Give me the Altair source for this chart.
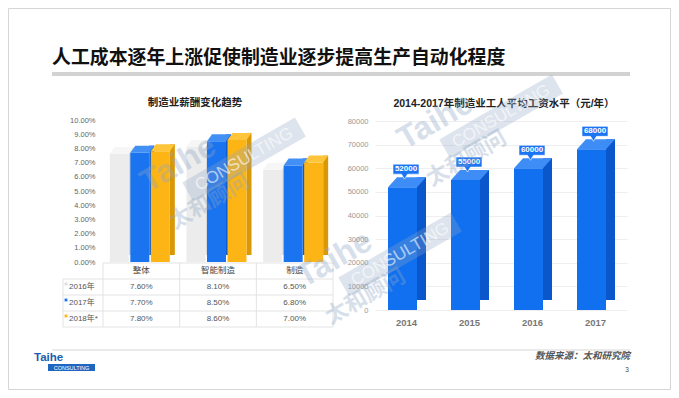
import math
import altair as alt
import pandas as pd

# ---------------- data ----------------
salary_categories = ["整体", "智能制造", "制造"]
salary_series = ["2016年", "2017年", "2018年*"]
salary_2016 = [0.076, 0.081, 0.065]
salary_2017 = [0.077, 0.085, 0.068]
salary_2018 = [0.078, 0.086, 0.070]
salary_ticks = [0.0, 0.01, 0.02, 0.03, 0.04, 0.05, 0.06, 0.07, 0.08, 0.09, 0.10]

wage_years = ["2014", "2015", "2016", "2017"]
wage_values = [52000, 55000, 60000, 68000]
wage_ticks = [0, 10000, 20000, 30000, 40000, 50000, 60000, 70000, 80000]

slide_title = "人工成本逐年上涨促使制造业逐步提高生产自动化程度"
left_title = "制造业薪酬变化趋势"
right_title = "2014-2017年制造业工人平均工资水平（元/年）"
source_text = "数据来源：太和研究院"
page_number = "3"

# ---------------- styles ----------------
LAT = "Liberation Sans, Noto Sans CJK SC, sans-serif"
CJK = "Noto Sans CJK SC, sans-serif"
W, H = 663, 382
LINE = "#e3e3e3"

series_front = ["#ececec", "#1a73ef", "#fdb515"]
series_side = ["#d8d8d8", "#0c5bcf", "#d99806"]
series_top = ["#f6f6f6", "#4290f6", "#fec53a"]
series_off = [-22, -1.5, 19]
WL, DXL, DYL = 19, 5, 7

R_FRONT, R_SIDE, R_TOP = "#1170f0", "#0a57cc", "#3e8df6"
WR, DXR, DYR, OFFR = 29, 9, 10, -4

salary_values = [salary_2016, salary_2017, salary_2018]
sal_rows = []
for s, vals in zip(salary_series, salary_values):
    for c, v in zip(salary_categories, vals):
        sal_rows.append({"cat": c, "series": s, "value": v, "label": f"{v*100:.2f}%"})
sal_df = pd.DataFrame(sal_rows)
cat_df = pd.DataFrame({"cat": salary_categories})
ser_df = pd.DataFrame({"series": salary_series})
wage_df = pd.DataFrame({"year": wage_years, "value": wage_values,
                        "label": [str(v) for v in wage_values]})
one = pd.DataFrame({"k": [0]})

# ---------------- left chart ----------------
LX = alt.Scale(domain=salary_categories, range=[95, 325], paddingInner=0, paddingOuter=0)
LY = alt.Scale(domain=[0, 0.1], range=[254, 112], nice=False)
TY = alt.Scale(domain=salary_series, range=[271, 319], paddingInner=0, paddingOuter=0)
bwL = 230 / 3


def xl():
    return alt.X("cat:N", scale=LX, sort=salary_categories,
                 axis=alt.Axis(orient="bottom", offset=-128, labelAngle=0, domain=False,
                               ticks=False, grid=False, labelFont=CJK, labelFontSize=8.5,
                               labelColor="#444", labelPadding=3, title=None))


def yl():
    return alt.Y("value:Q", scale=LY,
                 axis=alt.Axis(orient="left", offset=-95, values=salary_ticks, format=".2%",
                               domain=False, ticks=False, grid=False, labelFont=LAT,
                               labelFontSize=7.5, labelColor="#666", labelPadding=8, title=None))


bar_layers = []
for i, s in enumerate(salary_series):
    d = sal_df[sal_df["series"] == s]
    off = series_off[i]
    side = alt.Chart(d).mark_bar(width=DXL, xOffset=off + WL / 2 + DXL / 2, yOffset=-DYL,
                                 y2Offset=-DYL / 2, color=series_side[i]).encode(x=xl(), y=yl())
    front = alt.Chart(d).mark_bar(width=WL, xOffset=off, color=series_front[i]).encode(x=xl(), y=yl())
    path = f"M{-WL/2},0L{WL/2},0L{WL/2+DXL},{-DYL}L{-WL/2+DXL},{-DYL}Z"
    top = alt.Chart(d).mark_point(shape=path, size=4, filled=True, opacity=1, strokeWidth=0,
                                  color=series_top[i], xOffset=off).encode(x=xl(), y=yl())
    bar_layers += [side, front, top]
left_bars = alt.layer(*bar_layers)

ty = alt.Y("series:N", scale=TY, sort=salary_series, axis=None)
table_layers = [
    alt.Chart(sal_df).mark_text(font=LAT, fontSize=8, color="#555").encode(x=xl(), y=ty, text="label:N"),
    alt.Chart(ser_df).mark_text(font=LAT, fontSize=8, color="#555", align="left").encode(
        x=alt.value(61), y=ty, text="series:N"),
    alt.Chart(ser_df).mark_square(size=8, opacity=1, yOffset=-3).encode(
        x=alt.value(58), y=ty,
        color=alt.Color("series:N", scale=alt.Scale(domain=salary_series, range=["#dcdcdc", "#1a73ef", "#fdb515"]), legend=None)),
    alt.Chart(cat_df).mark_rule(color=LINE, xOffset=-bwL / 2).encode(x=xl(), y=alt.value(255), y2=alt.value(319)),
    alt.Chart(cat_df.tail(1)).mark_rule(color=LINE, xOffset=bwL / 2).encode(x=xl(), y=alt.value(255), y2=alt.value(319)),
    alt.Chart(one).mark_rule(color=LINE).encode(x=alt.value(55), y=alt.value(271), y2=alt.value(319)),
    alt.Chart(ser_df).mark_rule(color=LINE, yOffset=-8).encode(y=ty, x=alt.value(55), x2=alt.value(325)),
    alt.Chart(ser_df.tail(1)).mark_rule(color=LINE, yOffset=8).encode(y=ty, x=alt.value(55), x2=alt.value(325)),
    alt.Chart(one).mark_rule(color=LINE).encode(y=alt.value(255), x=alt.value(95), x2=alt.value(325)),
]
left_table = alt.layer(*table_layers)
left = alt.layer(left_bars, left_table).resolve_scale(y="independent")

# ---------------- right chart ----------------
RX = alt.Scale(domain=wage_years, range=[367, 619], paddingInner=0, paddingOuter=0)
RY = alt.Scale(domain=[0, 80000], range=[302, 113], nice=False)


def xr():
    return alt.X("year:N", scale=RX, sort=wage_years,
                 axis=alt.Axis(orient="bottom", offset=-80, labelAngle=0, domain=False, ticks=False,
                               grid=False, labelFont=LAT, labelFontSize=9.5, labelFontWeight="bold",
                               labelColor="#777", labelPadding=7, title=None))


def yr():
    return alt.Y("value:Q", scale=RY,
                 axis=alt.Axis(orient="left", offset=-367, values=wage_ticks, format="d",
                               domain=False, ticks=False, grid=True, gridColor="#eeeeee",
                               labelFont=LAT, labelFontSize=7.5, labelColor="#999",
                               labelPadding=7, title=None))


rpath_top = f"M{-WR/2},0L{WR/2},0L{WR/2+DXR},{-DYR}L{-WR/2+DXR},{-DYR}Z"
rpath_call = "M-9.5,-23L16.5,-23L16.5,-13L5,-13L2,-8L-1,-13L-9.5,-13Z"
right = alt.layer(
    alt.Chart(wage_df).mark_bar(width=DXR, xOffset=OFFR + WR / 2 + DXR / 2, yOffset=-DYR,
                                y2Offset=-DYR / 2, color=R_SIDE).encode(x=xr(), y=yr()),
    alt.Chart(wage_df).mark_bar(width=WR, xOffset=OFFR, color=R_FRONT).encode(x=xr(), y=yr()),
    alt.Chart(wage_df).mark_point(shape=rpath_top, size=4, filled=True, opacity=1, strokeWidth=0,
                                  color=R_TOP, xOffset=OFFR).encode(x=xr(), y=yr()),
    alt.Chart(wage_df).mark_point(shape=rpath_call, size=4, filled=True, opacity=1, fill="#1b74f2",
                                  stroke="#ffffff", strokeWidth=0.6, xOffset=OFFR).encode(x=xr(), y=yr()),
    alt.Chart(wage_df).mark_text(font=LAT, fontSize=8, fontWeight="bold", color="white",
                                 dx=OFFR + 3.5, dy=-18, baseline="middle").encode(x=xr(), y=yr(), text="label:N"),
)

# ---------------- decorations ----------------
def txt(t, x, y, **kw):
    return alt.Chart(one).mark_text(text=t, **kw).encode(x=alt.value(x), y=alt.value(y))


deco = alt.layer(
    alt.Chart(one).mark_rect(fillOpacity=0, stroke="#d6d6d6", strokeWidth=1).encode(
        x=alt.value(0.5), x2=alt.value(662.5), y=alt.value(0.5), y2=alt.value(381.5)),
    txt(slide_title, 44, 50, font=CJK, fontSize=18.9, fontWeight="bold", color="#111", align="left", baseline="middle"),
    alt.Chart(one).mark_rect(fill="#d2d2d2").encode(
        x=alt.value(44), x2=alt.value(622), y=alt.value(64), y2=alt.value(68)),
    txt(left_title, 187, 95, font=CJK, fontSize=10.5, fontWeight="bold", color="#222", align="center", baseline="middle"),
    txt(right_title, 496, 96, font=LAT, fontSize=10.5, fontWeight="bold", color="#222", align="center", baseline="middle"),
    alt.Chart(one).mark_rule(color="#e4e4e4", strokeWidth=1.5).encode(
        x=alt.value(44), x2=alt.value(622), y=alt.value(342)),
    txt("Taihe", 26, 350, font=LAT, fontSize=11.5, fontWeight="bold", color="#1b5cad", align="left", baseline="middle"),
    alt.Chart(one).mark_rect(fill="#1f66c1").encode(
        x=alt.value(40), x2=alt.value(87), y=alt.value(356), y2=alt.value(363)),
    txt("CONSULTING", 63.5, 359.7, font=LAT, fontSize=5.5, color="white", align="center", baseline="middle"),
    txt(source_text, 622, 348, font=CJK, fontSize=9.5, fontWeight="bold", fontStyle="italic", color="#555",
        align="right", baseline="middle"),
    txt(page_number, 619, 362, font=LAT, fontSize=6.5, color="#444", align="center", baseline="middle"),
)

# ---------------- watermark ----------------
WM = "#8ea6c4"


def cluster(cx, cy, s=1.0):
    th = math.radians(30)

    def P(u, v):
        return (cx + u * math.cos(th) + v * math.sin(th), cy - u * math.sin(th) + v * math.cos(th))

    out = []
    x, y = P(0, 0)
    out.append(txt("Taihe", x, y, font=LAT, fontSize=32 * s, fontWeight="bold", color=WM, opacity=0.35,
                   angle=330, align="left", baseline="alphabetic"))
    bx, by = P(100 * s, 19 * s)
    hw, hh = 65 * s, 11 * s
    box = f"M{-hw:.1f},{-hh:.1f}L{hw:.1f},{-hh:.1f}L{hw:.1f},{hh:.1f}L{-hw:.1f},{hh:.1f}Z"
    out.append(alt.Chart(one).mark_point(shape=box, size=4, angle=330, filled=True, opacity=0.3,
                                         strokeWidth=0, color=WM).encode(x=alt.value(bx), y=alt.value(by)))
    out.append(txt("CONSULTING", bx, by, font=LAT, fontSize=17 * s, color="white", opacity=0.6,
                   angle=330, align="center", baseline="middle"))
    x, y = P(5 * s, 45 * s)
    out.append(txt("太和顾问", x, y, font=CJK, fontSize=22 * s, fontWeight="bold", color=WM, opacity=0.35,
                   angle=330, align="left", baseline="alphabetic"))
    return out


wm = alt.layer(*(cluster(140, 185) + cluster(296, 280) + cluster(397, 142)))

chart = alt.layer(deco, left, right, wm).resolve_scale(x="independent", y="independent").properties(
    width=W, height=H, autosize=alt.AutoSizeParams(type="none"), padding=0, background="white"
).configure_view(stroke=None)

chart.save("out.html", embed_options={"renderer": "svg", "actions": False})
